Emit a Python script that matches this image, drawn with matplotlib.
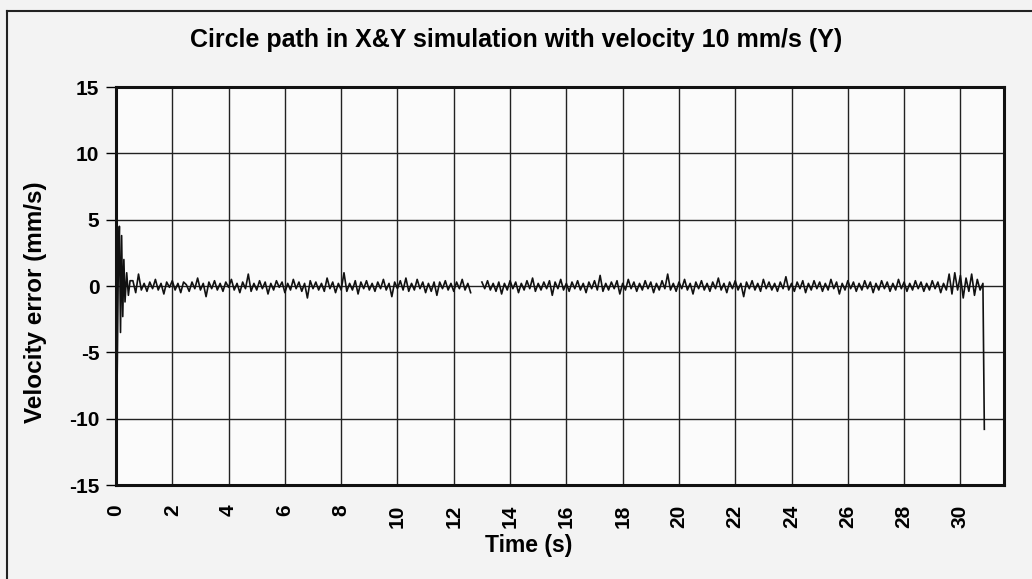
import numpy as np
import matplotlib
matplotlib.use("Agg")
import matplotlib.pyplot as plt
from matplotlib.lines import Line2D

plt.rcParams['font.family'] = ['Liberation Sans', 'DejaVu Sans']
plt.rcParams['font.weight'] = 'bold'
plt.rcParams['axes.unicode_minus'] = False

# start-up transient (s, mm/s)
t_start = [0.0, 0.04, 0.08, 0.12, 0.16, 0.2, 0.24, 0.28, 0.32, 0.38, 0.44, 0.5]
v_start = [0.0, -7.0, 1.0, 4.5, -3.5, 3.8, -2.3, 2.0, -1.2, 1.0, -0.7, 0.4]

# steady noise, sampled every 0.1 s from 0.6 s
v_noise = [
    0.4, -0.5, 0.9, -0.3, 0.2, -0.4, 0.3, -0.2, 0.5, -0.3,
    0.2, -0.6, 0.3, -0.1, 0.4, -0.3, 0.2, -0.5, 0.3, 0.1,
    -0.4, 0.3, -0.2, 0.6, -0.3, 0.2, -0.8, 0.3, -0.2, 0.4,
    -0.3, 0.2, -0.4, 0.3, -0.1, 0.5, -0.3, 0.2, -0.5, 0.3,
    -0.2, 0.9, -0.4, 0.2, -0.3, 0.4, -0.2, 0.3, -0.6, 0.2,
    -0.3, 0.4, -0.1, 0.3, -0.5, 0.2, -0.3, 0.5, -0.2, 0.3,
    -0.4, 0.2, -0.9, 0.4, -0.2, 0.3, -0.3, 0.2, -0.4, 0.6,
    -0.2, 0.3, -0.5, 0.2, -0.3, 1.0, -0.4, 0.2, -0.3, 0.4,
    -0.6, 0.3, -0.2, 0.4, -0.3, 0.2, -0.4, 0.3, -0.2, 0.5,
    -0.3, 0.2, -0.8, 0.3, -0.2, 0.4, -0.3, 0.6, -0.4, 0.2,
    -0.3, 0.5, -0.2, 0.3, -0.5, 0.2, -0.4, 0.3, -0.7, 0.3,
    -0.2, 0.4, -0.3, 0.2, -0.4, 0.3, -0.2, 0.5, -0.3, 0.2,
    -0.5, np.nan, np.nan, np.nan, 0.3, -0.2, 0.4, -0.3, 0.2, -0.4,
    0.3, -0.6, 0.2, -0.3, 0.4, -0.2, 0.3, -0.5, 0.2, -0.3,
    0.4, -0.2, 0.6, -0.4, 0.2, -0.3, 0.3, -0.2, 0.4, -0.7,
    0.3, -0.2, 0.5, -0.3, 0.2, -0.4, 0.3, -0.2, 0.4, -0.3,
    0.2, -0.5, 0.3, -0.2, 0.4, -0.3, 0.8, -0.4, 0.2, -0.3,
    0.3, -0.2, 0.4, -0.6, 0.2, -0.3, 0.5, -0.2, 0.3, -0.4,
    0.2, -0.3, 0.4, -0.2, 0.3, -0.5, 0.2, -0.3, 0.4, -0.2,
    0.9, -0.3, 0.2, -0.4, 0.3, -0.2, 0.5, -0.3, 0.2, -0.6,
    0.3, -0.2, 0.4, -0.3, 0.2, -0.4, 0.3, -0.2, 0.6, -0.3,
    0.2, -0.5, 0.3, -0.2, 0.4, -0.3, 0.2, -0.8, 0.3, -0.2,
    0.4, -0.3, 0.2, -0.4, 0.5, -0.2, 0.3, -0.3, 0.2, -0.4,
    0.3, -0.2, 0.7, -0.3, 0.2, -0.4, 0.3, -0.2, 0.4, -0.5,
    0.2, -0.3, 0.4, -0.2, 0.3, -0.4, 0.2, -0.3, 0.5, -0.2,
    0.3, -0.6, 0.2, -0.3, 0.4, -0.2, 0.3, -0.4, 0.2, -0.3,
    0.4, -0.2, 0.3, -0.5, 0.2, -0.3, 0.4, -0.2, 0.3, -0.4,
    0.2, -0.3, 0.5, -0.2, 0.3, -0.4, 0.2, -0.3, 0.4, -0.2,
    0.3, -0.4, 0.2, -0.3, 0.4, -0.2, 0.3, -0.5, 0.2, -0.3,
    0.9, -0.6, 1.0, -0.3, 0.8, -0.9, 0.6, -0.4, 0.9, -0.7,
    0.5, -0.3, 0.2,
]
t_noise = 0.6 + 0.1 * np.arange(len(v_noise))

# final drop
t_end = [30.85]
v_end = [-10.8]

t = np.concatenate([t_start, t_noise, t_end])
v = np.concatenate([v_start, v_noise, v_end])

x_ticks = list(range(0, 31, 2))
y_ticks = [-15, -10, -5, 0, 5, 10, 15]

fig = plt.figure(figsize=(10.32, 5.79), dpi=100)
fig.patch.set_facecolor('#f3f3f3')
ax = fig.add_axes([0.1124, 0.1623, 0.8605, 0.6874])
ax.set_facecolor('#fbfbfb')

ax.plot(t, v, color='#111111', lw=1.2)

ax.set_xlim(0, 31.55)
ax.set_ylim(-15, 15)
ax.set_xticks(x_ticks)
ax.set_yticks(y_ticks)
ax.grid(True, color='#222222', lw=1.0)
ax.set_axisbelow(True)

for s in ax.spines.values():
    s.set_linewidth(2.2)
    s.set_color('#111111')

ax.tick_params(axis='x', length=0, pad=14, labelsize=15, labelrotation=90)
ax.tick_params(axis='y', length=7, width=1, pad=5, labelsize=15)
for lab in ax.get_xticklabels() + ax.get_yticklabels():
    lab.set_fontweight('bold')

fig.text(0.5126, 0.0587, 'Time (s)', ha='center', va='center', fontsize=16.5, fontweight='bold')
fig.text(0.034, 0.478, 'Velocity error (mm/s)', ha='center', va='center', rotation=90,
         fontsize=17.5, fontweight='bold')
fig.text(0.500, 0.931, 'Circle path in X&Y simulation with velocity 10 mm/s (Y)',
         ha='center', va='center', fontsize=18, fontweight='bold')

# outer frame of the scanned chart
fig.add_artist(Line2D([0.007, 0.007], [0.0, 0.981], transform=fig.transFigure, color='#222222', lw=1.5))
fig.add_artist(Line2D([0.007, 1.0], [0.981, 0.981], transform=fig.transFigure, color='#222222', lw=1.5))

fig.savefig('out.png', dpi=100, facecolor=fig.get_facecolor())
